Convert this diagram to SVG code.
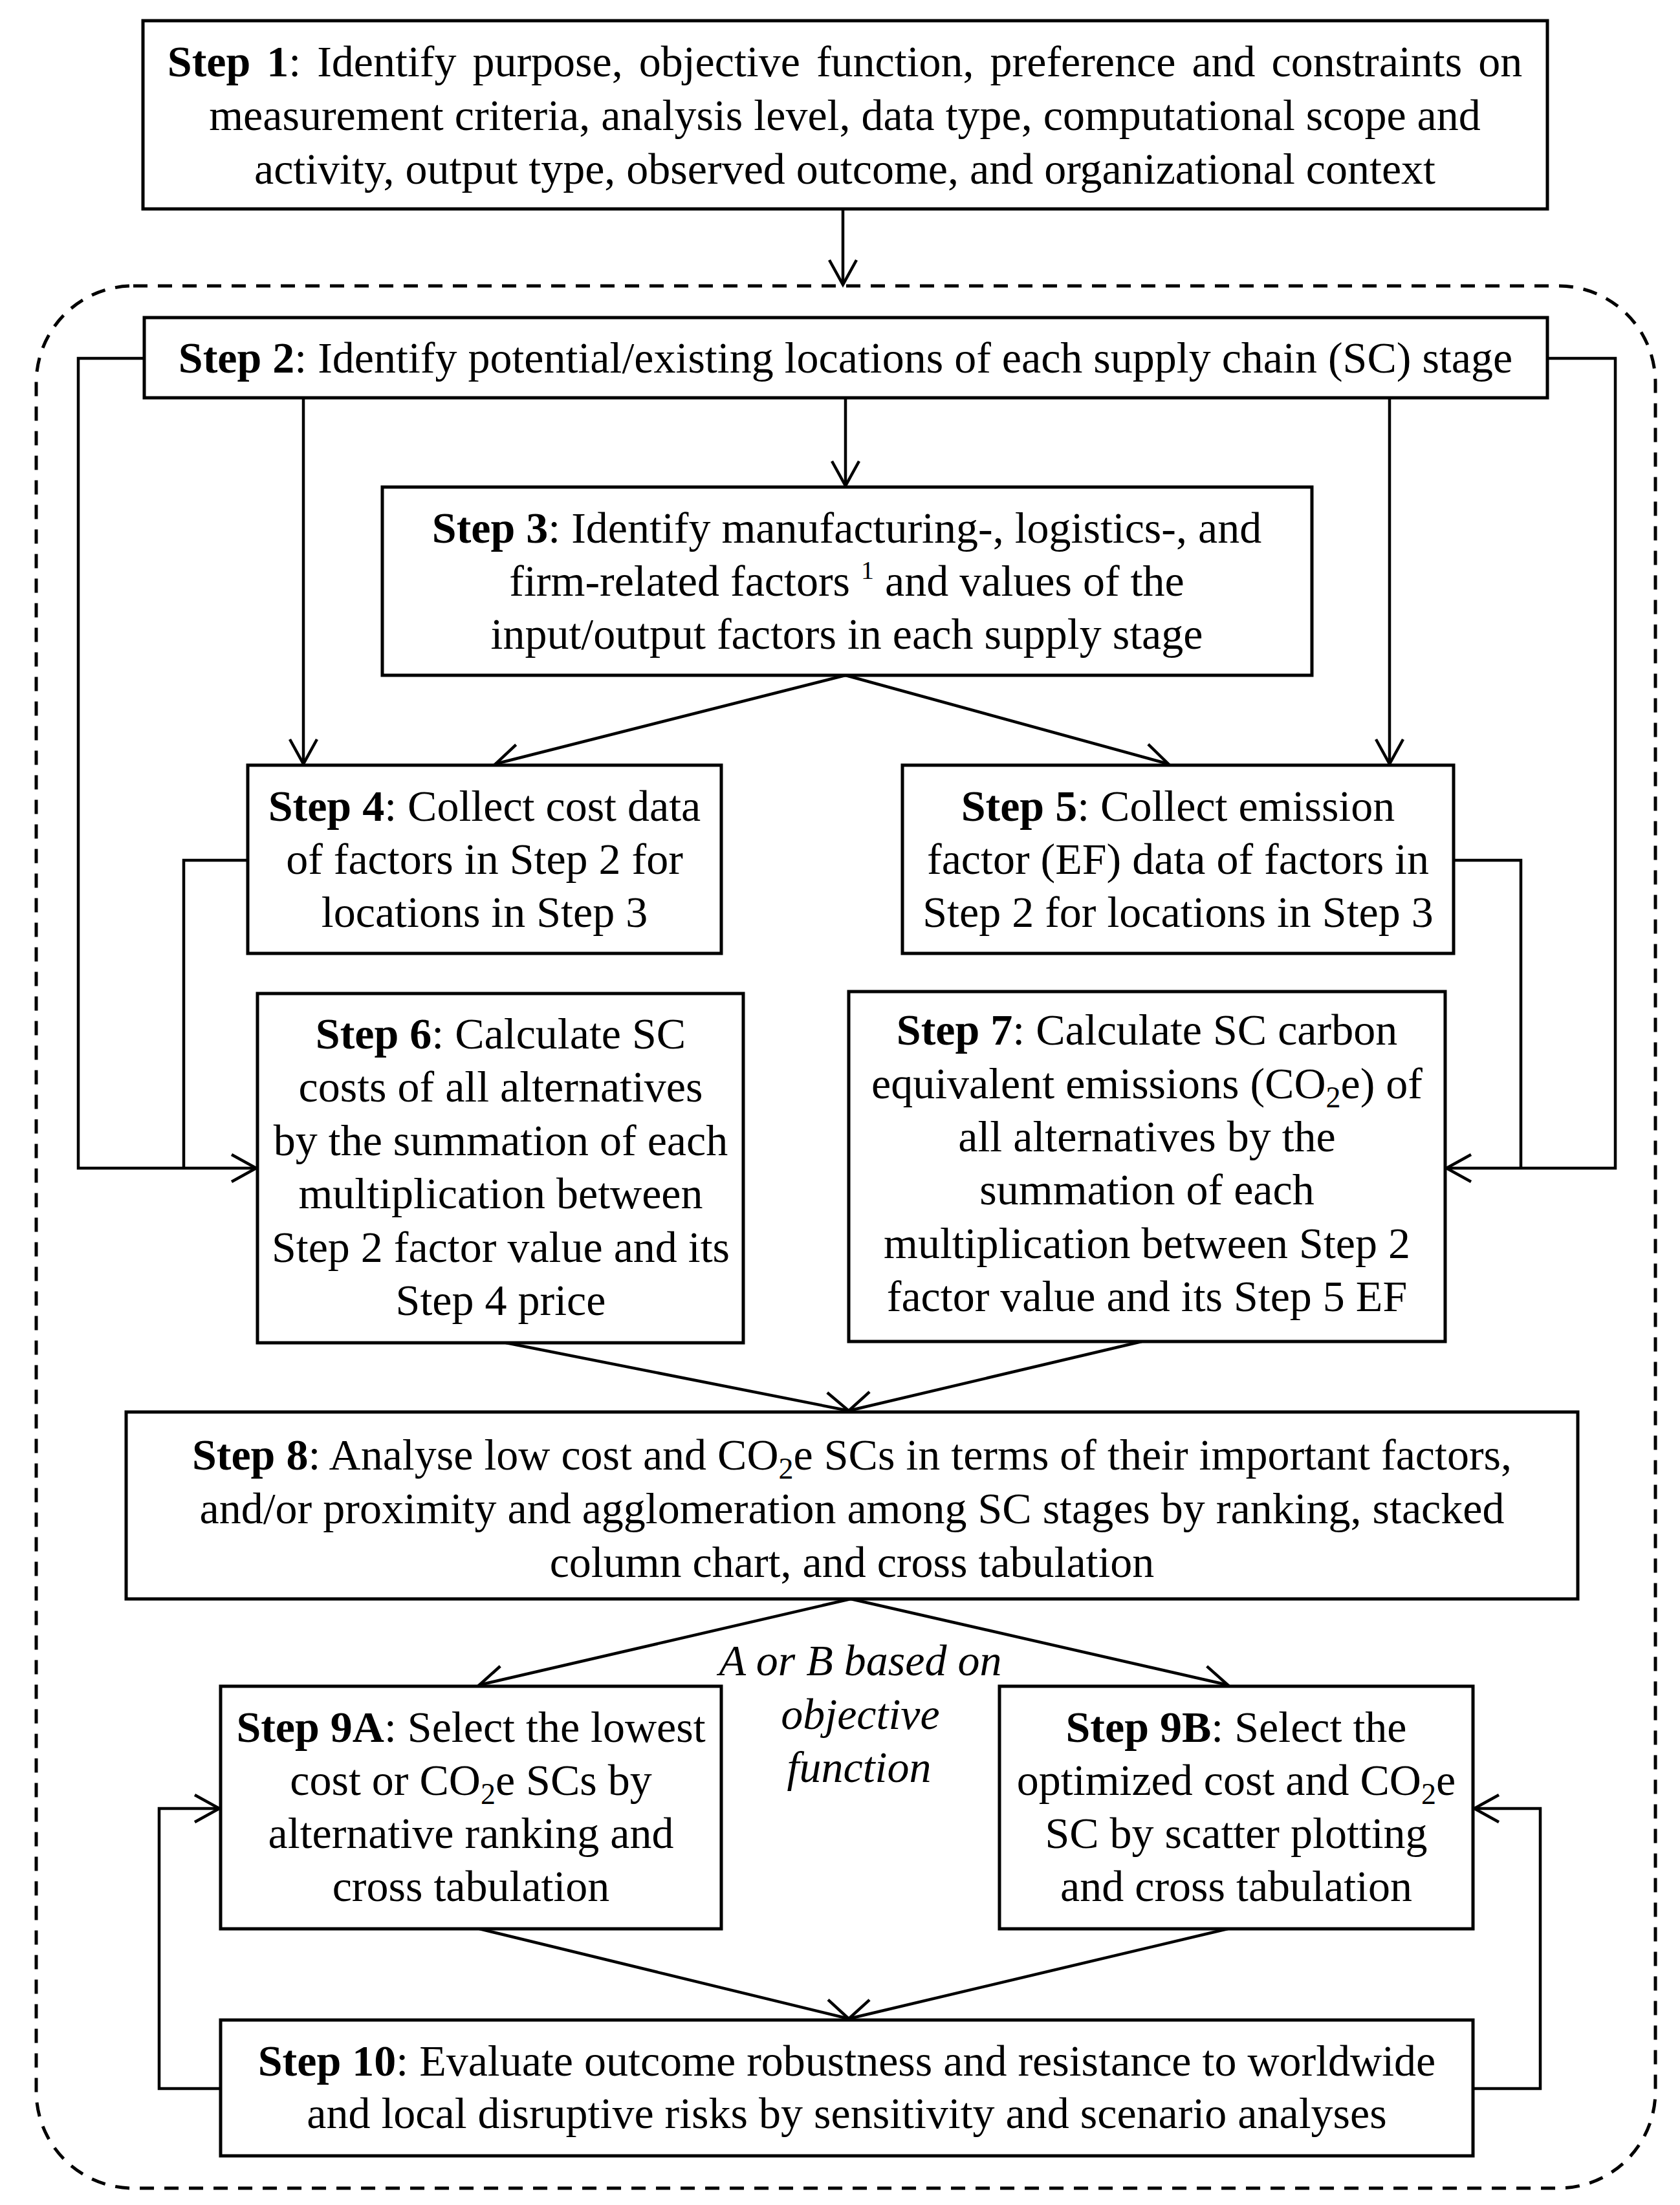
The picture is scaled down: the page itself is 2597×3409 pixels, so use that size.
<svg xmlns="http://www.w3.org/2000/svg" width="2597" height="3409" viewBox="0 0 2597 3409">
<defs>
<style>
.box{fill:#fff;stroke:#000;stroke-width:5}
.t{font-family:"Liberation Serif","Times New Roman",serif;font-size:68px;text-anchor:middle;fill:#000}
.b{font-weight:bold}
.i{font-style:italic}
.c{fill:none;stroke:#000;stroke-width:4.5}
.dash{fill:none;stroke:#000;stroke-width:5;stroke-dasharray:22 16}
</style>
<marker id="ah" viewBox="-45 -25 50 50" refX="0" refY="0" markerWidth="50" markerHeight="50" markerUnits="userSpaceOnUse" orient="auto">
<path d="M-38,-21 L0,0 L-38,21" fill="none" stroke="#000" stroke-width="4.5"/>
</marker>
</defs>
<rect width="2597" height="3409" fill="#fff"/>
<rect class="dash" x="56" y="442" width="2503" height="2941" rx="150" ry="150"/>
<g id="connectors">
<line class="c" x1="1303" y1="323" x2="1303" y2="440" marker-end="url(#ah)"/>
<line class="c" x1="1307" y1="615" x2="1307" y2="751" marker-end="url(#ah)"/>
<line class="c" x1="469" y1="615" x2="469" y2="1181" marker-end="url(#ah)"/>
<line class="c" x1="2148" y1="615" x2="2148" y2="1181" marker-end="url(#ah)"/>
<polyline class="c" points="223,554 121,554 121,1806 396,1806" marker-end="url(#ah)"/>
<polyline class="c" points="383,1330 284,1330 284,1806"/>
<polyline class="c" points="2392,554 2497,554 2497,1806 2236,1806" marker-end="url(#ah)"/>
<polyline class="c" points="2247,1330 2351,1330 2351,1806"/>
<line class="c" x1="1307" y1="1044" x2="766" y2="1181" marker-end="url(#ah)"/>
<line class="c" x1="1307" y1="1044" x2="1806" y2="1181" marker-end="url(#ah)"/>
<line class="c" x1="782" y1="2076" x2="1312" y2="2181" marker-end="url(#ah)"/>
<line class="c" x1="1765" y1="2074" x2="1312" y2="2181" marker-end="url(#ah)"/>
<line class="c" x1="1315" y1="2472" x2="741" y2="2605" marker-end="url(#ah)"/>
<line class="c" x1="1315" y1="2472" x2="1898" y2="2605" marker-end="url(#ah)"/>
<line class="c" x1="741" y1="2982" x2="1312" y2="3121" marker-end="url(#ah)"/>
<line class="c" x1="1898" y1="2982" x2="1312" y2="3121" marker-end="url(#ah)"/>
<polyline class="c" points="341,3229 246,3229 246,2796 339,2796" marker-end="url(#ah)"/>
<polyline class="c" points="2277,3229 2381,3229 2381,2796 2279,2796" marker-end="url(#ah)"/>
</g>
<g id="step1">
<rect class="box" x="221" y="32" width="2171" height="291"/>
<text class="t" x="1306" y="118" word-spacing="8"><tspan class="b">Step 1</tspan>: Identify purpose, objective function, preference and constraints on</text>
<text class="t" x="1306" y="201">measurement criteria, analysis level, data type, computational scope and</text>
<text class="t" x="1306" y="284">activity, output type, observed outcome, and organizational context</text>
</g>
<g id="step2">
<rect class="box" x="223" y="491" width="2169" height="124"/>
<text class="t" x="1307" y="576"><tspan class="b">Step 2</tspan>: Identify potential/existing locations of each supply chain (SC) stage</text>
</g>
<g id="step3">
<rect class="box" x="591" y="753" width="1437" height="291"/>
<text class="t" x="1309" y="839"><tspan class="b">Step 3</tspan>: Identify manufacturing-, logistics-, and</text>
<text class="t" x="1309" y="921">firm-related factors <tspan font-size="40" dy="-26">1</tspan><tspan dy="26"> and values of the</tspan></text>
<text class="t" x="1309" y="1003">input/output factors in each supply stage</text>
</g>
<g id="step4">
<rect class="box" x="383" y="1183" width="732" height="291"/>
<text class="t" x="749" y="1269"><tspan class="b">Step 4</tspan>: Collect cost data</text>
<text class="t" x="749" y="1351">of factors in Step 2 for</text>
<text class="t" x="749" y="1433">locations in Step 3</text>
</g>
<g id="step5">
<rect class="box" x="1395" y="1183" width="852" height="291"/>
<text class="t" x="1821" y="1269"><tspan class="b">Step 5</tspan>: Collect emission</text>
<text class="t" x="1821" y="1351">factor (EF) data of factors in</text>
<text class="t" x="1821" y="1433">Step 2 for locations in Step 3</text>
</g>
<g id="step6">
<rect class="box" x="398" y="1536" width="751" height="540"/>
<text class="t" x="774" y="1621"><tspan class="b">Step 6</tspan>: Calculate SC</text>
<text class="t" x="774" y="1703">costs of all alternatives</text>
<text class="t" x="774" y="1786">by the summation of each</text>
<text class="t" x="774" y="1868">multiplication between</text>
<text class="t" x="774" y="1951">Step 2 factor value and its</text>
<text class="t" x="774" y="2033">Step 4 price</text>
</g>
<g id="step7">
<rect class="box" x="1312" y="1533" width="922" height="541"/>
<text class="t" x="1773" y="1615"><tspan class="b">Step 7</tspan>: Calculate SC carbon</text>
<text class="t" x="1773" y="1698">equivalent emissions (CO<tspan font-size="46" dy="14">2</tspan><tspan dy="-14">e) of</tspan></text>
<text class="t" x="1773" y="1780">all alternatives by the</text>
<text class="t" x="1773" y="1862">summation of each</text>
<text class="t" x="1773" y="1945">multiplication between Step 2</text>
<text class="t" x="1773" y="2027">factor value and its Step 5 EF</text>
</g>
<g id="step8">
<rect class="box" x="195" y="2183" width="2244" height="289"/>
<text class="t" x="1317" y="2272"><tspan class="b">Step 8</tspan>: Analyse low cost and CO<tspan font-size="46" dy="14">2</tspan><tspan dy="-14">e SCs in terms of their important factors,</tspan></text>
<text class="t" x="1317" y="2355">and/or proximity and agglomeration among SC stages by ranking, stacked</text>
<text class="t" x="1317" y="2438">column chart, and cross tabulation</text>
</g>
<g id="label">
<text class="t i" x="1330" y="2590">A or B based on</text>
<text class="t i" x="1330" y="2673">objective</text>
<text class="t i" x="1328" y="2755">function</text>
</g>
<g id="step9a">
<rect class="box" x="341" y="2607" width="774" height="375"/>
<text class="t" x="728" y="2693"><tspan class="b">Step 9A</tspan>: Select the lowest</text>
<text class="t" x="728" y="2775">cost or CO<tspan font-size="46" dy="14">2</tspan><tspan dy="-14">e SCs by</tspan></text>
<text class="t" x="728" y="2857">alternative ranking and</text>
<text class="t" x="728" y="2939">cross tabulation</text>
</g>
<g id="step9b">
<rect class="box" x="1545" y="2607" width="732" height="375"/>
<text class="t" x="1911" y="2693"><tspan class="b">Step 9B</tspan>: Select the</text>
<text class="t" x="1911" y="2775">optimized cost and CO<tspan font-size="46" dy="14">2</tspan><tspan dy="-14">e</tspan></text>
<text class="t" x="1911" y="2857">SC by scatter plotting</text>
<text class="t" x="1911" y="2939">and cross tabulation</text>
</g>
<g id="step10">
<rect class="box" x="341" y="3123" width="1936" height="210"/>
<text class="t" x="1309" y="3209"><tspan class="b">Step 10</tspan>: Evaluate outcome robustness and resistance to worldwide</text>
<text class="t" x="1309" y="3290">and local disruptive risks by sensitivity and scenario analyses</text>
</g>
</svg>
